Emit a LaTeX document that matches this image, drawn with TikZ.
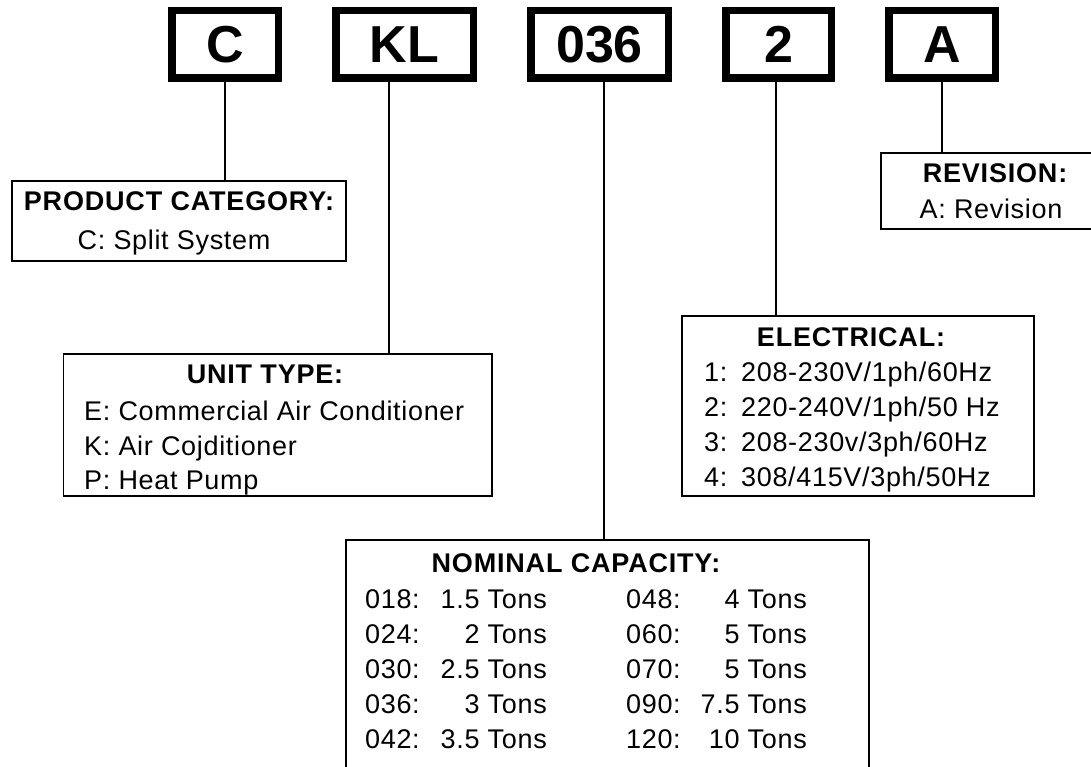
\documentclass[tikz,border=0pt]{standalone}
\usepackage{fontspec}
\setmainfont{Liberation Sans}[LetterSpace=2.5]
\newfontfamily\headfont{Liberation Sans}[LetterSpace=3]
\newfontfamily\codefont{Liberation Sans}
\usetikzlibrary{calc,positioning}

\begin{document}
\begin{tikzpicture}[x=1pt,y=-1pt,node distance=50pt]

\tikzset{codebox/.style={draw,line width=7.5pt,minimum height=67.5pt,minimum width=106.5pt,inner sep=0pt,font=\codefont\bfseries\fontsize{52}{52}\selectfont},
infobox/.style={draw,line width=1.8pt,inner sep=0pt,anchor=north west},
headtext/.style={font=\headfont\bfseries\fontsize{27}{32}\selectfont,inner sep=0pt,anchor=base},
bodytext/.style={font=\fontsize{27}{32}\selectfont,inner sep=0pt,anchor=base west},
link/.style={line width=2pt}}

\path[use as bounding box,clip] (0,0) rectangle (1091,767);

% Code boxes
\node[codebox] (ccode) at (225,44.5) {C};
\node[codebox,right=of ccode,minimum width=137.5pt] (klcode) {KL};
\node[codebox,right=of klcode,minimum width=137.5pt] (sizecode) {036};
\node[codebox,right=of sizecode,minimum width=105.5pt] (eleccode) {2};
\node[codebox,right=of eleccode] (revcode) {A};

% Product category
\node[infobox,minimum width=334pt,minimum height=80pt] (catbox) at (11,180) {};
\node[headtext] (cath) at (179,211) {PRODUCT CATEGORY:};
\node[bodytext,anchor=base] (cat1) at (174,250) {C: Split System};

% Revision
\node[infobox,minimum width=240pt,minimum height=76pt] (revbox) at (880,152) {};
\node[headtext] (revh) at (995,183) {REVISION:};
\node[bodytext,anchor=base] (rev1) at (991,219) {A: Revision};

% Unit type
\node[infobox,minimum width=428.5pt,minimum height=142pt] (typebox) at (62.5,353) {};
\node[headtext] (typeh) at (265,383) {UNIT TYPE:};
\foreach \t [count=\i] in {E: Commercial Air Conditioner,K: Air Cojditioner,P: Heat Pump}
  \node[bodytext] (type\i) at (84,{386+34.5*\i}) {\t};

% Electrical
\node[infobox,minimum width=352pt,minimum height=180pt] (elecbox) at (681,315) {};
\node[headtext] (elech) at (851,346) {ELECTRICAL:};
\foreach \v [count=\i] in {208-230V/1ph/60Hz,220-240V/1ph/50 Hz,208-230v/3ph/60Hz,308/415V/3ph/50Hz} {
  \node[bodytext] (elecno\i) at (704,{346+35*\i}) {\i:};
  \node[bodytext] (elec\i) at (741,{346+35*\i}) {\v};
}

% Nominal capacity
\node[infobox,minimum width=523pt,minimum height=260pt] (sizebox) at (345,539) {};
\node[headtext] (sizeh) at (576,572) {NOMINAL CAPACITY:};
\foreach \ka/\va/\kb/\vb [count=\i] in {018/1.5/048/4,024/2/060/5,030/2.5/070/5,036/3/090/7.5,042/3.5/120/10} {
  \node[bodytext] (sizeka\i) at (365,{573+35*\i}) {\ka:};
  \node[bodytext,anchor=base east] (sizeva\i) at (547,{573+35*\i}) {\va~Tons};
  \node[bodytext] (sizekb\i) at (626,{573+35*\i}) {\kb:};
  \node[bodytext,anchor=base east] (sizevb\i) at (807,{573+35*\i}) {\vb~Tons};
}

% Connectors
\draw[link] (ccode.south) -- (ccode.south |- catbox.north);
\draw[link] ($(klcode.south west)!.39!(klcode.south east)$) coordinate (klfoot) -- (klfoot |- typebox.north);
\draw[link] ($(sizecode.south west)!.53!(sizecode.south east)$) coordinate (sizefoot) -- (sizefoot |- sizebox.north);
\draw[link] ($(eleccode.south west)!.48!(eleccode.south east)$) coordinate (elecfoot) -- (elecfoot |- elecbox.north);
\draw[link] (revcode.south) -- (revcode.south |- revbox.north);

\end{tikzpicture}
\end{document}
